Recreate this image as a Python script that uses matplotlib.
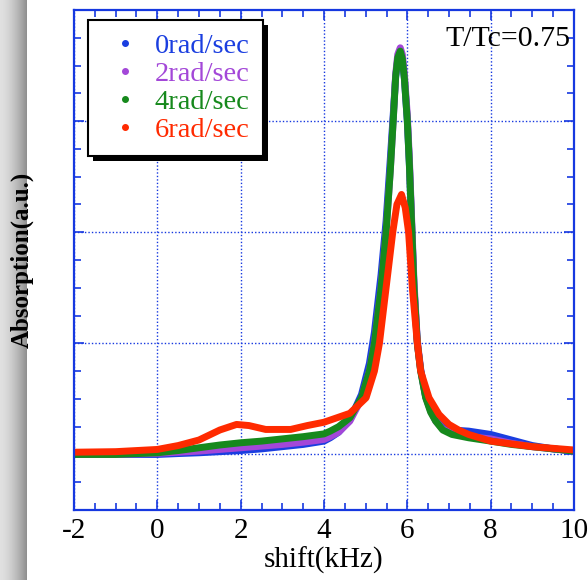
import numpy as np
import matplotlib
matplotlib.use("Agg")
import matplotlib.pyplot as plt
from matplotlib.lines import Line2D
from matplotlib.patches import Rectangle
from matplotlib.transforms import IdentityTransform

plt.rcParams['font.family'] = ['Liberation Serif', 'DejaVu Serif']
plt.rcParams['axes.unicode_minus'] = False

### Data ###

labels = ["0rad/sec", "2rad/sec", "4rad/sec", "6rad/sec"]
colors = ["#1a3ee0", "#a347d8", "#16891c", "#ff2a00"]

shift = [-2, -1, 0, 0.5, 1, 1.5, 2, 2.5, 3, 3.5,
         4, 4.15, 4.35, 4.62, 4.9, 5.09, 5.21, 5.37, 5.49, 5.59,
         5.66, 5.72, 5.77, 5.83, 5.88, 5.93, 6.0, 6.05, 6.1, 6.16,
         6.24, 6.32, 6.44, 6.56, 6.68, 6.85, 7.07, 7.47, 8.0, 8.5,
         9.0, 9.5, 10]

abs_0 = [0.0, 0.0, 0.0, 0.008, 0.015, 0.025, 0.035, 0.05, 0.07, 0.09,
         0.12, 0.15, 0.2, 0.31, 0.54, 0.82, 1.1, 1.62, 2.1, 2.65,
         3.05, 3.4, 3.55, 3.6, 3.55, 3.38, 3.0, 2.6, 2.1, 1.5,
         1.0, 0.76, 0.52, 0.4, 0.32, 0.26, 0.22, 0.21, 0.18, 0.13,
         0.08, 0.05, 0.03]

abs_2 = [0.0, 0.0, 0.01, 0.02, 0.03, 0.045, 0.06, 0.075, 0.09, 0.11,
         0.135, 0.16, 0.2, 0.3, 0.5, 0.75, 1.0, 1.5, 2.0, 2.55,
         3.0, 3.42, 3.6, 3.66, 3.6, 3.42, 3.05, 2.65, 2.15, 1.55,
         1.02, 0.77, 0.52, 0.39, 0.3, 0.23, 0.19, 0.16, 0.14, 0.1,
         0.07, 0.05, 0.03]

abs_4 = [0.0, 0.0, 0.015, 0.035, 0.06, 0.085, 0.105, 0.12, 0.14, 0.16,
         0.185, 0.21, 0.25, 0.33, 0.51, 0.75, 1.0, 1.5, 2.0, 2.55,
         3.0, 3.4, 3.57, 3.63, 3.56, 3.38, 3.0, 2.6, 2.1, 1.5,
         1.0, 0.75, 0.51, 0.38, 0.3, 0.22, 0.18, 0.15, 0.12, 0.09,
         0.07, 0.05, 0.03]

shift_6 = [-2, -1, 0, 0.5, 1, 1.5, 1.9, 2.2, 2.6, 3.2,
           3.6, 4, 4.62, 5.01, 5.21, 5.33, 5.49, 5.65, 5.75, 5.86,
           5.95, 6.03, 6.12, 6.24, 6.32, 6.52, 6.76, 7.0, 7.23, 7.47,
           8, 9, 10]
abs_6 = [0.02, 0.025, 0.045, 0.08, 0.13, 0.22, 0.27, 0.26, 0.225, 0.225,
         0.26, 0.29, 0.37, 0.51, 0.75, 1.0, 1.5, 2.0, 2.25, 2.34,
         2.22, 2.0, 1.5, 1.0, 0.75, 0.51, 0.36, 0.27, 0.22, 0.18,
         0.12, 0.07, 0.04]

annot = "T/Tc=0.75"

### Figure ###

fig = plt.figure(figsize=(5.88, 5.80), dpi=100)

# gray strip at the left edge
strip = fig.add_axes([0, 0, 27 / 588, 1])
grad = (0.88 - 0.32 * np.linspace(0, 1, 64) ** 1.6).reshape(1, -1)
strip.imshow(grad, cmap='gray', vmin=0, vmax=1, aspect='auto', extent=[0, 1, 0, 1])
strip.axis('off')

ax = fig.add_axes([74 / 588, 70 / 580, 500 / 588, 500 / 580])

axis_blue = "#1638e0"
series = [(shift, abs_0), (shift, abs_2), (shift, abs_4), (shift_6, abs_6)]
for (x, y), c in zip(series, colors):
    ax.plot(x, y, color=c, lw=5, solid_capstyle='round', solid_joinstyle='round')

ax.set_xlim(-2, 10)
ax.set_ylim(-0.5, 4)
ax.set_xticks(np.arange(-2, 11, 2))
ax.set_xticks(np.arange(-2, 10.01, 0.5), minor=True)
ax.set_yticks([0, 1, 2, 3])
ax.set_yticks(np.arange(-0.5, 4.01, 0.25), minor=True)
ax.set_yticklabels([])
ax.grid(True, which='major', color=axis_blue, linestyle=(0, (1, 1.5)), lw=1)

for s in ax.spines.values():
    s.set_color(axis_blue)
    s.set_linewidth(1.6)
ax.tick_params(which='both', direction='in', top=True, right=True, color=axis_blue)
ax.tick_params(which='major', length=7, width=1.2, labelsize=21, pad=6)
ax.tick_params(which='minor', length=5, width=1.2)

ax.set_xlabel("shift(kHz)", fontsize=21, labelpad=2)
fig.text(0.037, 0.552, "Absorption(a.u.)", rotation=90, fontsize=18,
         fontweight='bold', ha='center', va='center')

ax.text(0.993, 0.968, annot, transform=ax.transAxes, fontsize=21.5, ha='right', va='top')

handles = [Line2D([], [], color=c, marker='o', markersize=4, linestyle='none') for c in colors]
leg = ax.legend(handles, labels, loc='upper left', bbox_to_anchor=(0.028, 0.98),
                borderaxespad=0, fontsize=20.5, labelcolor=colors, frameon=True,
                fancybox=False, edgecolor='black', framealpha=1,
                handlelength=1.7, handletextpad=0.2, labelspacing=0.08, borderpad=0.45)
leg.get_frame().set_linewidth(1.5)

# black drop shadow behind the legend box
fig.canvas.draw()
bb = leg.get_frame().get_window_extent()
shadow = Rectangle((bb.x0 + 5, bb.y0 - 5), bb.width, bb.height, transform=IdentityTransform(),
                   facecolor='black', edgecolor='none', zorder=4.5, clip_on=False)
ax.add_patch(shadow)

plt.savefig("out.png", dpi=100)
